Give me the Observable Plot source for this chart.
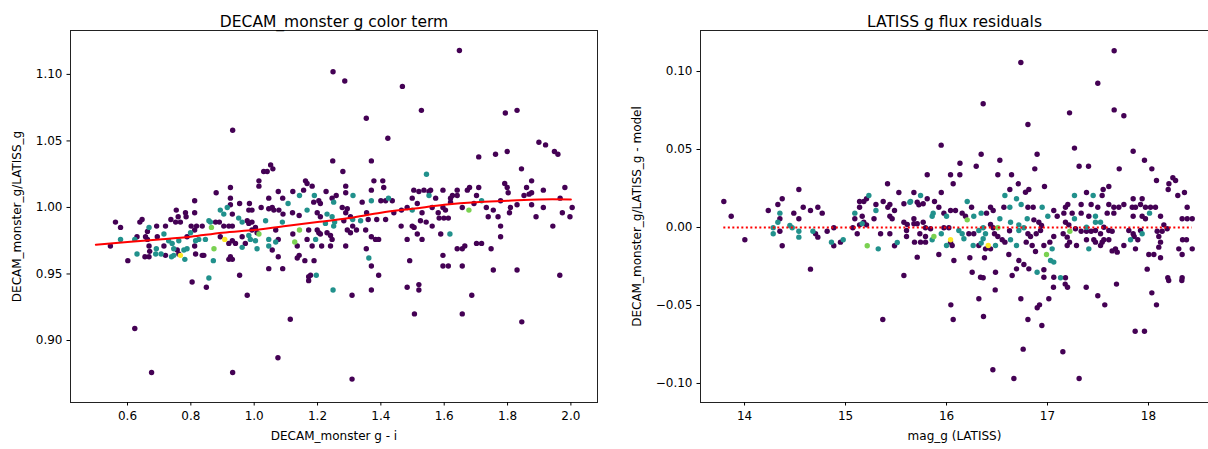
<!DOCTYPE html>
<html>
<head>
<meta charset="utf-8">
<script src="https://cdn.jsdelivr.net/npm/d3@7"></script>
<script src="https://cdn.jsdelivr.net/npm/@observablehq/plot@0.6"></script>
<style>
  body { margin: 0; background: #fff; font-family: "DejaVu Sans", sans-serif; }
  #row { display: flex; width: 1208px; height: 449px; overflow: hidden; }
  #row svg { flex: none; }
</style>
</head>
<body>
<div id="row"></div>
<script>
// ---- Colour-term panel: [g - i, DECAM_g / LATISS_g], grouped by colour level ----
const levelValues = [0, 0.5, 0.8, 1];

const ctLow = [
  [1.648,1.118],[1.249,1.102],[1.286,1.095],[1.468,1.091],[1.528,1.073],[1.793,1.071],[1.830,1.073],[1.354,1.067],
  [0.932,1.058],[1.422,1.052],[1.899,1.049],[1.920,1.047],[1.948,1.042],[1.959,1.040],
  [0.804,0.944],[0.849,0.940],[0.978,0.934],[1.172,0.945],[1.309,0.934],[1.370,0.938],[1.483,0.940],[1.520,0.942],
  [1.520,0.938],[1.687,0.934],[1.506,0.920],[1.657,0.920],[1.845,0.914],[0.623,0.909],[1.114,0.916],[1.075,0.887],
  [0.676,0.876],[0.932,0.876],[1.309,0.871],[1.965,0.949],
  [0.562,0.989],[0.578,0.985],[0.546,0.971],[0.601,0.960],[0.630,0.978],[0.639,0.989],[0.646,0.991],[0.657,0.978],
  [0.663,0.976],[0.663,0.982],[0.668,0.971],[0.670,0.967],[0.655,0.963],[0.668,0.963],[0.692,0.986],[0.694,0.978],
  [0.720,0.986],[0.715,0.971],[0.720,0.964],[0.737,0.991],[0.754,0.998],[0.760,0.993],[0.752,0.989],[0.767,0.989],
  [0.783,0.996],[0.785,0.993],[0.812,1.005],[0.812,0.996],[0.801,0.986],[0.818,0.986],[0.836,0.986],[0.812,0.983],
  [0.757,0.968],[0.762,0.965],[0.788,0.978],[0.812,0.971],[0.815,0.965],[0.836,0.964],[0.841,0.964],[0.880,1.011],
  [0.878,0.989],[0.890,0.989],[0.904,0.986],[0.920,0.986],[0.931,0.986],[0.925,1.007],[0.925,1.015],[0.925,1.002],
  [0.931,0.995],[0.893,0.978],[0.920,0.973],[0.931,0.975],[0.941,0.973],[0.925,0.963],[0.920,0.961],[0.931,0.961],
  [0.954,1.003],[0.985,1.003],[0.983,0.998],[0.993,0.998],[0.978,0.990],[0.983,0.988],[0.993,0.989],[0.993,0.983],
  [1.004,0.985],[1.009,0.981],[0.962,0.978],[0.972,0.973],[1.015,1.020],[1.015,1.016],[1.030,1.027],[1.022,1.000],
  [0.954,0.949],
  [1.052,1.032],[1.059,1.029],[1.041,1.027],[1.248,1.035],[1.370,1.035],[1.280,1.027],[1.162,1.020],[1.167,1.018],
  [1.156,1.013],[1.183,1.016],[1.289,1.016],[1.378,1.020],[1.406,1.020],[1.370,1.013],[1.409,1.015],[1.046,1.007],
  [1.046,0.999],[1.057,1.000],[1.062,0.998],[1.076,1.012],[1.090,1.007],[1.122,1.012],[1.188,1.004],[1.204,1.005],
  [1.209,1.003],[1.227,1.012],[1.246,1.007],[1.259,1.009],[1.289,1.011],[1.341,1.004],[1.400,1.005],[1.415,1.005],
  [1.436,1.005],[1.504,1.013],[1.520,1.012],[1.536,1.013],[1.552,1.012],[1.557,1.013],[1.499,1.007],[1.515,1.003],
  [1.483,1.000],[1.465,0.998],[1.562,1.000],[1.530,0.996],[1.078,0.998],[1.091,0.995],[1.121,0.996],[1.142,0.994],
  [1.199,0.996],[1.209,0.993],[1.278,1.000],[1.289,0.996],[1.294,0.999],[1.283,0.990],[1.304,0.993],[1.311,0.986],
  [1.355,0.996],[1.360,0.991],[1.387,0.991],[1.415,0.991],[1.441,0.996],[1.464,0.986],[1.499,0.986],[1.505,0.985],
  [1.525,0.990],[1.543,0.989],[1.562,0.986],[1.068,0.983],[1.122,0.980],[1.167,0.976],[1.172,0.983],[1.199,0.983],
  [1.204,0.981],[1.209,0.980],[1.230,0.981],[1.241,0.979],[1.246,0.976],[1.294,0.983],[1.304,0.981],[1.323,0.983],
  [1.352,0.983],[1.370,0.978],[1.383,0.976],[1.393,0.976],[1.483,0.976],[1.515,0.980],[1.530,0.976],[1.076,0.976],
  [1.057,0.968],[1.076,0.963],[1.136,0.971],[1.142,0.964],[1.136,0.962],[1.160,0.960],[1.183,0.971],[1.213,0.971],
  [1.241,0.971],[1.289,0.971],[1.189,0.960],[1.354,0.969],[1.370,0.956],[1.491,0.960],[1.046,0.954],[1.090,0.954],
  [1.178,0.949],[1.172,0.948],[1.393,0.949],
  [1.709,1.038],[1.762,1.040],[1.799,1.042],[1.844,1.029],[1.596,1.013],[1.641,1.013],[1.673,1.013],[1.680,1.015],
  [1.709,1.015],[1.791,1.018],[1.799,1.015],[1.802,1.011],[1.860,1.015],[1.876,1.020],[1.876,1.011],[1.868,1.010],
  [1.852,1.009],[1.913,1.013],[1.981,1.015],[1.573,1.007],[1.620,1.007],[1.626,1.009],[1.641,1.009],[1.620,1.004],
  [1.702,1.009],[1.694,1.003],[1.778,1.005],[1.830,1.002],[1.876,1.002],[1.966,1.007],[1.596,1.000],[1.604,0.998],
  [1.657,1.000],[1.733,1.000],[1.755,0.998],[1.809,1.000],[1.806,0.996],[1.913,1.000],[2.004,1.000],[1.973,0.996],
  [1.997,0.993],[1.581,0.996],[1.584,0.992],[1.599,0.992],[1.613,0.992],[1.739,0.993],[1.770,0.993],[1.890,0.993],
  [1.778,0.986],[1.943,0.986],[1.589,0.980],[1.778,0.978],[1.641,0.969],[1.657,0.969],[1.665,0.971],[1.702,0.973],
  [1.718,0.973],[1.748,0.969],[1.596,0.964],[1.596,0.956],[1.613,0.956],[1.657,0.956],[1.755,0.953],[1.830,0.953]
];
const ctMid = [
  [0.578,0.976],[0.623,0.976],[0.630,0.965],[0.668,0.985],[0.691,0.969],[0.689,0.965],[0.715,0.980],[0.706,0.965],
  [0.730,0.975],[0.741,0.973],[0.762,0.975],[0.746,0.969],[0.778,0.968],[0.788,0.969],[0.739,0.963],[0.746,0.964],
  [0.781,0.961],[0.799,0.981],[0.815,0.975],[0.825,0.976],[0.846,0.976],[0.857,0.990],[0.862,0.989],[0.871,0.960],
  [0.893,0.998],[0.904,0.995],[0.915,1.000],[0.951,0.992],[0.962,0.989],[0.983,0.979],[0.988,0.976],[0.962,0.970],
  [1.004,0.975],[1.009,0.969],[0.857,0.947],
  [1.544,1.025],[1.107,1.003],[1.143,1.009],[1.190,1.009],[1.251,1.004],[1.312,1.009],[1.370,1.005],[1.424,1.007],
  [1.552,1.009],[1.499,0.998],[1.167,0.998],[1.230,0.995],[1.225,0.988],[1.246,0.993],[1.251,0.986],[1.254,0.989],
  [1.311,0.991],[1.336,0.990],[1.089,0.989],[1.036,0.990],[1.194,0.976],[1.046,0.976],[1.046,0.971],[1.068,0.974],
  [1.362,0.962],[1.196,0.949],[1.249,0.938],[1.718,1.005],[1.618,0.980]
];
const ctHigh = [[0.865,0.985],[0.873,0.969],[1.015,0.980],[1.143,0.983],[1.128,0.974],[1.678,0.998]];
const ctTop = [[0.767,0.964],[0.907,0.976]];

// polynomial colour-term fit, sampled along g - i
const fitGi    = [0.5, 0.6, 0.7, 0.8, 0.9, 1.0, 1.1, 1.2, 1.3, 1.4, 1.5, 1.6, 1.7, 1.8, 1.9, 2.0];
const fitRatio = [0.972, 0.974, 0.976, 0.978, 0.981, 0.983, 0.986, 0.989, 0.992, 0.996, 0.999, 1.002, 1.004, 1.005, 1.006, 1.006];

// ---- Residual panel: [LATISS mag_g, residual], grouped by colour level ----
const resLow = [
  [17.660,0.1133],[16.736,0.1058],[17.498,0.0925],[16.363,0.0793],[17.218,0.0735],[17.660,0.0754],[17.756,0.0716],
  [16.806,0.0660],[15.947,0.0528],[17.267,0.0509],[17.848,0.0489],[16.343,0.0470],[16.897,0.0470],[16.528,0.0431],
  [17.960,0.0431],[16.133,0.0412],[16.294,0.0393],[16.874,0.0376],[17.313,0.0393],[17.406,0.0393],[17.710,0.0376],
  [18.033,0.0376],
  [16.482,-0.0400],[16.320,-0.0457],[16.043,-0.0496],[16.736,-0.0457],[17.013,-0.0457],[16.921,-0.0496],[16.898,-0.0515],
  [17.059,-0.0383],[17.175,-0.0363],[17.198,-0.0383],[17.383,-0.0383],[17.683,-0.0363],[17.498,-0.0438],[17.567,-0.0496],
  [18.033,-0.0419],[18.079,-0.0496],[15.369,-0.0590],[16.066,-0.0590],[16.366,-0.0571],[16.806,-0.0590],[16.944,-0.0628],
  [17.868,-0.0665],[17.960,-0.0665],[16.759,-0.0780],[17.152,-0.0797],[16.459,-0.0912],[16.667,-0.0968],[17.313,-0.0968],
  [18.200,-0.0340],[18.330,-0.0340],
  [13.795,0.0167],[13.868,0.0072],[14.003,-0.0079],
  [14.235,0.0109],[14.330,0.0147],[14.373,0.0184],[14.350,0.0056],[14.350,-0.0024],[14.373,-0.0117],[14.538,0.0244],
  [14.488,0.0092],[14.538,0.0056],[14.581,0.0130],[14.653,0.0109],[14.726,0.0130],[14.769,0.0092],[14.703,-0.0040],
  [14.726,-0.0062],[14.653,-0.0267],[14.818,-0.0024],[14.884,-0.0002],[14.884,-0.0117],[14.950,-0.0094],[15.072,-0.0002],
  [15.092,0.0056],[15.116,-0.0040],[15.139,0.0167],[15.181,0.0167],[15.208,0.0184],[15.139,0.0130],[15.165,0.0072],
  [15.139,0.0017],[15.181,0.0034],[15.208,0.0017],[15.301,0.0147],[15.282,0.0056],[15.347,-0.0040],[15.439,-0.0040],
  [15.373,0.0167],[15.439,0.0147],[15.419,0.0130],[15.485,0.0109],[15.416,0.0280],[15.528,0.0224],[15.439,0.0072],
  [15.462,0.0056],[15.578,0.0034],[15.611,0.0019],[15.578,0.0152],[15.485,-0.0117],[15.604,-0.0019],[15.604,-0.0058],
  [15.578,-0.0308],
  [15.809,0.0338],[16.040,0.0338],[16.132,0.0338],[16.066,0.0280],[16.508,0.0338],[16.644,0.0338],[16.710,0.0280],
  [16.627,0.0244],[16.815,0.0244],[16.782,0.0226],[16.970,0.0263],[15.677,0.0224],[15.809,0.0184],[15.948,0.0224],
  [15.710,0.0162],[15.769,0.0152],[15.726,0.0146],[15.881,0.0167],[15.924,0.0130],[15.974,0.0092],[16.040,0.0109],
  [16.089,0.0109],[16.155,0.0092],[16.188,0.0072],[16.248,0.0130],[16.396,0.0092],[16.436,0.0130],[16.462,0.0109],
  [16.568,0.0130],[16.806,0.0130],[16.858,0.0130],[17.062,0.0109],[17.096,0.0072],[16.865,0.0049],[16.914,0.0034],
  [16.941,0.0013],[15.677,0.0056],[15.677,0.0024],[15.710,0.0024],[15.769,0.0034],[15.792,-0.0002],[15.842,-0.0008],
  [15.736,-0.0040],[15.792,-0.0058],[15.683,-0.0094],[15.743,-0.0094],[15.792,-0.0094],[15.710,-0.0190],[15.974,-0.0002],
  [16.023,-0.0002],[16.040,-0.0094],[16.056,-0.0115],[16.221,-0.0040],[16.270,-0.0040],[16.320,-0.0115],[16.386,-0.0137],
  [16.436,0.0019],[16.462,-0.0002],[16.475,-0.0040],[16.508,-0.0058],[16.436,-0.0137],[16.551,-0.0079],[16.578,-0.0094],
  [16.624,-0.0021],[16.806,-0.0040],[16.832,-0.0058],[16.789,-0.0094],[16.848,-0.0115],[16.888,-0.0040],[16.931,-0.0019],
  [16.964,-0.0115],[17.023,-0.0094],[16.881,-0.0154],[17.062,-0.0058],[15.924,-0.0173],[16.073,-0.0212],[16.231,-0.0194],
  [16.376,-0.0194],[16.617,-0.0173],[16.716,-0.0212],[16.766,-0.0237],[16.815,-0.0265],[16.693,-0.0265],[16.254,-0.0287],
  [16.485,-0.0287],[16.337,-0.0319],[16.363,-0.0322],[16.650,-0.0308],[16.964,-0.0271],[16.964,-0.0319],[17.062,-0.0319],
  [18.079,0.0301],[18.241,0.0319],[18.268,0.0301],[18.202,0.0280],[18.195,0.0244],[18.290,0.0205],[18.356,0.0224],
  [18.383,0.0130],[18.333,0.0056],[18.383,0.0056],[18.433,0.0056],[17.386,0.0224],[17.551,0.0244],[17.607,0.0263],
  [17.541,0.0205],[17.848,0.0184],[17.937,0.0184],[17.178,0.0130],[17.201,0.0147],[17.333,0.0147],[17.432,0.0147],
  [17.498,0.0130],[17.607,0.0147],[17.657,0.0130],[17.706,0.0130],[17.756,0.0147],[17.839,0.0130],[17.871,0.0130],
  [17.921,0.0147],[17.970,0.0130],[18.020,0.0130],[18.069,0.0130],[17.591,0.0092],[17.657,0.0092],[17.848,0.0072],
  [17.937,0.0072],[18.119,0.0072],[17.970,0.0056],[17.162,0.0092],[17.244,0.0092],[17.333,0.0092],[17.409,0.0072],
  [17.178,0.0034],[17.211,0.0017],[17.155,-0.0040],[17.277,-0.0008],[17.432,-0.0024],[17.333,-0.0024],[17.386,-0.0024],
  [17.475,-0.0019],[17.525,-0.0040],[17.558,0.0002],[17.607,-0.0019],[17.640,-0.0024],[17.805,-0.0019],[17.848,-0.0040],
  [17.921,-0.0019],[18.086,-0.0024],[18.135,-0.0024],[18.185,-0.0008],[18.152,0.0017],[18.102,-0.0058],[18.119,-0.0094],
  [18.102,-0.0126],[17.858,-0.0058],[17.894,-0.0079],[18.337,-0.0079],[18.376,-0.0079],[18.300,-0.0137],[18.433,-0.0137],
  [18.333,-0.0173],[17.195,-0.0062],[17.218,-0.0094],[17.287,-0.0115],[17.195,-0.0115],[17.386,-0.0079],[17.458,-0.0079],
  [17.475,-0.0094],[17.541,-0.0094],[17.558,-0.0079],[17.607,-0.0079],[17.525,-0.0115],[17.673,-0.0137],[17.690,-0.0158],
  [17.756,-0.0115],[17.871,-0.0137],[17.640,-0.0150],[18.003,-0.0173],[18.053,-0.0173],[18.119,-0.0194],[17.987,-0.0267],
  [18.191,-0.0322],[18.333,-0.0322],[17.178,-0.0322]
];
const resMid = [
  [14.350,0.0092],[14.330,0.0034],[14.284,-0.0002],[14.284,-0.0040],[14.449,0.0013],[14.472,-0.0002],[14.538,-0.0024],
  [14.538,-0.0062],[14.677,-0.0024],[14.861,-0.0094],[14.977,-0.0079],[15.092,0.0092],[15.231,0.0205],[15.301,0.0109],
  [15.324,-0.0137],[15.637,0.0162],[15.512,-0.0096],[15.165,0.0025],
  [15.743,0.0205],[15.644,0.0167],[15.868,0.0092],[15.858,0.0072],[16.000,0.0072],[16.205,0.0167],[16.270,0.0072],
  [16.343,0.0092],[16.578,0.0205],[16.627,0.0130],[16.693,0.0184],[16.739,0.0147],[16.947,0.0130],[17.003,0.0072],
  [16.528,0.0056],[16.634,0.0034],[16.799,0.0056],[16.716,0.0017],[15.858,-0.0079],[15.948,-0.0040],[16.000,-0.0115],
  [16.122,-0.0019],[16.155,-0.0040],[16.172,-0.0072],[16.320,-0.0019],[16.363,-0.0002],[16.386,-0.0040],[16.363,-0.0072],
  [16.343,-0.0100],[16.264,-0.0115],[16.485,-0.0115],[16.634,-0.0079],[16.716,-0.0019],[16.766,-0.0002],[16.693,-0.0115],
  [17.046,-0.0137],[17.030,-0.0212],[17.062,-0.0222],[16.897,-0.0287],
  [17.267,0.0205],[17.452,0.0205],[18.010,0.0092],[17.267,0.0056],[17.475,0.0072],[17.475,0.0034],[17.525,0.0034],
  [17.386,0.0002],[17.937,-0.0040],[17.822,-0.0079],[17.409,-0.0137],[17.129,-0.0322]
];
const resHigh = [[15.215,-0.0117],[16.205,0.0049],[15.875,-0.0058],[16.508,-0.0002],[16.990,-0.0173],[17.221,-0.0024]];
const resTop = [[16.040,-0.0079],[16.413,-0.0115]];

// axis ticks
const giTicks = [0.6, 0.8, 1.0, 1.2, 1.4, 1.6, 1.8, 2.0];
const ratioTicks = [0.90, 0.95, 1.00, 1.05, 1.10];
const magTicks = [14, 15, 16, 17, 18];
const residTicks = [-0.10, -0.05, 0.00, 0.05, 0.10];

// ---- build rows ----
const withLevel = groups => groups.flatMap((pts, i) => pts.map(([x, y]) => ({x, y, c: levelValues[i]})));
const colorTermRows = withLevel([ctLow, ctMid, ctHigh, ctTop]);
const residualRows = withLevel([resLow, resMid, resHigh, resTop]);
const fitRows = fitGi.map((x, i) => ({x, y: fitRatio[i]}));
const magExtent = d3.extent(residualRows, d => d.x);

const font = "DejaVu Sans, sans-serif";
const baseStyle = {fontFamily: font, fontSize: "12px", color: "#000", background: "#fff", overflow: "visible"};
const colorScale = {type: "linear", scheme: "viridis", domain: [0, 1]};
const dotR = 2.7;

const leftChart = Plot.plot({
  width: 604, height: 449,
  marginLeft: 70, marginRight: 7, marginTop: 30, marginBottom: 47,
  style: baseStyle,
  x: {domain: [0.42, 2.084]},
  y: {domain: [0.8534, 1.133]},
  color: colorScale,
  marks: [
    Plot.dot(colorTermRows, {x: "x", y: "y", fill: "c", r: dotR}),
    Plot.line(fitRows, {x: "x", y: "y", stroke: "red", strokeWidth: 2, curve: "natural"}),
    Plot.frame({stroke: "#222", strokeWidth: 1}),
    Plot.axisX({ticks: giTicks, tickFormat: ".1f", tickSize: 3.5, tickPadding: 5.5,
      label: "DECAM_monster g - i", labelAnchor: "center", labelArrow: "none", labelOffset: 37}),
    Plot.axisY({ticks: ratioTicks, tickFormat: ".2f", tickSize: 3.5, tickPadding: 4.5,
      label: "DECAM_monster_g/LATISS_g", labelAnchor: "center", labelArrow: "none", labelOffset: 58}),
    Plot.text(["DECAM_monster g color term"], {frameAnchor: "top", dy: -15, fontSize: 15.5, text: d => d})
  ]
});

const rightChart = Plot.plot({
  width: 604, height: 449,
  marginLeft: 96, marginRight: 0, marginTop: 30, marginBottom: 47,
  style: baseStyle,
  x: {domain: [13.564, 18.594]},
  y: {domain: [-0.1122, 0.1263]},
  color: colorScale,
  marks: [
    Plot.dot(residualRows, {x: "x", y: "y", fill: "c", r: dotR}),
    Plot.ruleY([0], {x1: magExtent[0], x2: magExtent[1], stroke: "red", strokeWidth: 2, strokeDasharray: "2,2.5"}),
    Plot.frame({stroke: "#222", strokeWidth: 1}),
    Plot.axisX({ticks: magTicks, tickFormat: "d", tickSize: 3.5, tickPadding: 5.5,
      label: "mag_g (LATISS)", labelAnchor: "center", labelArrow: "none", labelOffset: 37}),
    Plot.axisY({ticks: residTicks, tickFormat: ".2f", tickSize: 3.5, tickPadding: 4.5,
      label: "DECAM_monster_g/LATISS_g - model", labelAnchor: "center", labelArrow: "none", labelOffset: 68}),
    Plot.text(["LATISS g flux residuals"], {frameAnchor: "top", dy: -15, fontSize: 15.5, text: d => d})
  ]
});

document.getElementById("row").append(leftChart, rightChart);
</script>
</body>
</html>
